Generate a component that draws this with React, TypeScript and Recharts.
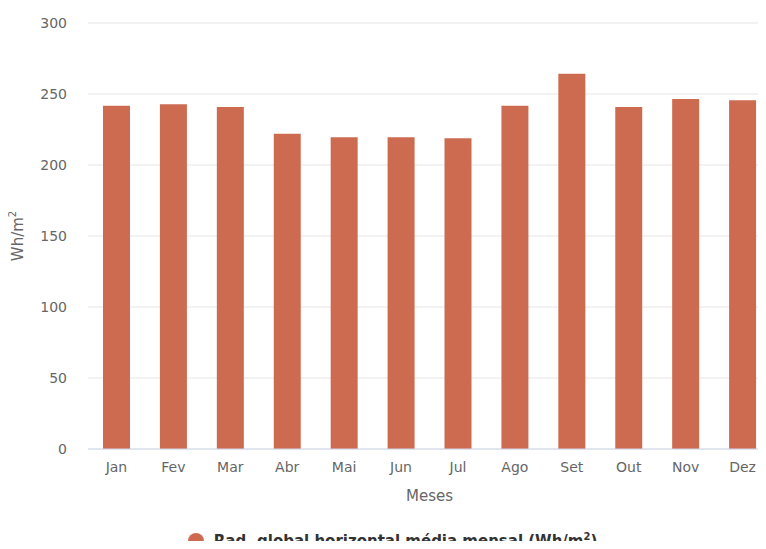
import { BarChart, Bar, XAxis, YAxis, CartesianGrid, Legend } from "recharts";

const months = ["Jan", "Fev", "Mar", "Abr", "Mai", "Jun", "Jul", "Ago", "Set", "Out", "Nov", "Dez"];
const radiation = [241.8, 242.7, 240.8, 222, 219.5, 219.5, 218.8, 241.8, 264.3, 240.8, 246.5, 245.6];
const yTicks = [0, 50, 100, 150, 200, 250, 300];

const seriesName = "Rad. global horizontal média mensal";
const barColor = "#cd6b50";
const font = "'DejaVu Sans', sans-serif";

const YTitle = ({ viewBox }: any) => {
  const cx = 18;
  const cy = viewBox.y + viewBox.height / 2;
  return (
    <text
      x={cx}
      y={cy}
      transform={`rotate(-90, ${cx}, ${cy})`}
      textAnchor="middle"
      dominantBaseline="central"
      fill="#666666"
      fontSize={15}
      fontFamily={font}
    >
      Wh/m<tspan baselineShift="super" fontSize={10}>2</tspan>
    </text>
  );
};

const LegendContent = () => (
  <div
    style={{
      display: "flex",
      justifyContent: "center",
      alignItems: "center",
      paddingLeft: 14,
      fontFamily: font,
      fontWeight: "bold",
      fontSize: 15,
      lineHeight: "18px",
      color: "#333333",
    }}
  >
    <span
      style={{
        display: "inline-block",
        width: 16,
        height: 16,
        borderRadius: "50%",
        background: barColor,
        marginRight: 10,
      }}
    />
    <span>
      {seriesName} (Wh/m<sup style={{ fontSize: 10, lineHeight: 0 }}>2</sup>)
    </span>
  </div>
);

export default function App() {
  const data = months.map((m, i) => ({ month: m, value: radiation[i] }));

  return (
    <div style={{ margin: -8, width: 766, height: 549, overflow: "hidden", background: "#fff" }}>
      <BarChart
        width={771}
        height={560}
        data={data}
        margin={{ top: 23, right: 0, bottom: 51, left: 0 }}
      >
        <CartesianGrid vertical={false} stroke="#e6e6e6" />
        <XAxis
          dataKey="month"
          height={60}
          tickLine={false}
          tickSize={0}
          tickMargin={13}
          axisLine={{ stroke: "#ccd6eb" }}
          tick={{ fill: "#666666", fontSize: 14, fontFamily: font }}
          label={{
            value: "Meses",
            position: "insideBottom",
            offset: 8,
            fill: "#666666",
            fontSize: 15,
            fontFamily: font,
          }}
        />
        <YAxis
          width={88}
          domain={[0, 300]}
          ticks={yTicks}
          axisLine={false}
          tickLine={false}
          tickSize={0}
          tickMargin={21}
          tick={{ fill: "#666666", fontSize: 14, fontFamily: font }}
          label={<YTitle />}
        />
        <Legend
          verticalAlign="middle"
          align="center"
          content={<LegendContent />}
          wrapperStyle={{ position: "absolute", top: 532, left: 0, width: 771 }}
        />
        <Bar dataKey="value" name={seriesName} fill={barColor} barSize={27} isAnimationActive={false} />
      </BarChart>
    </div>
  );
}
